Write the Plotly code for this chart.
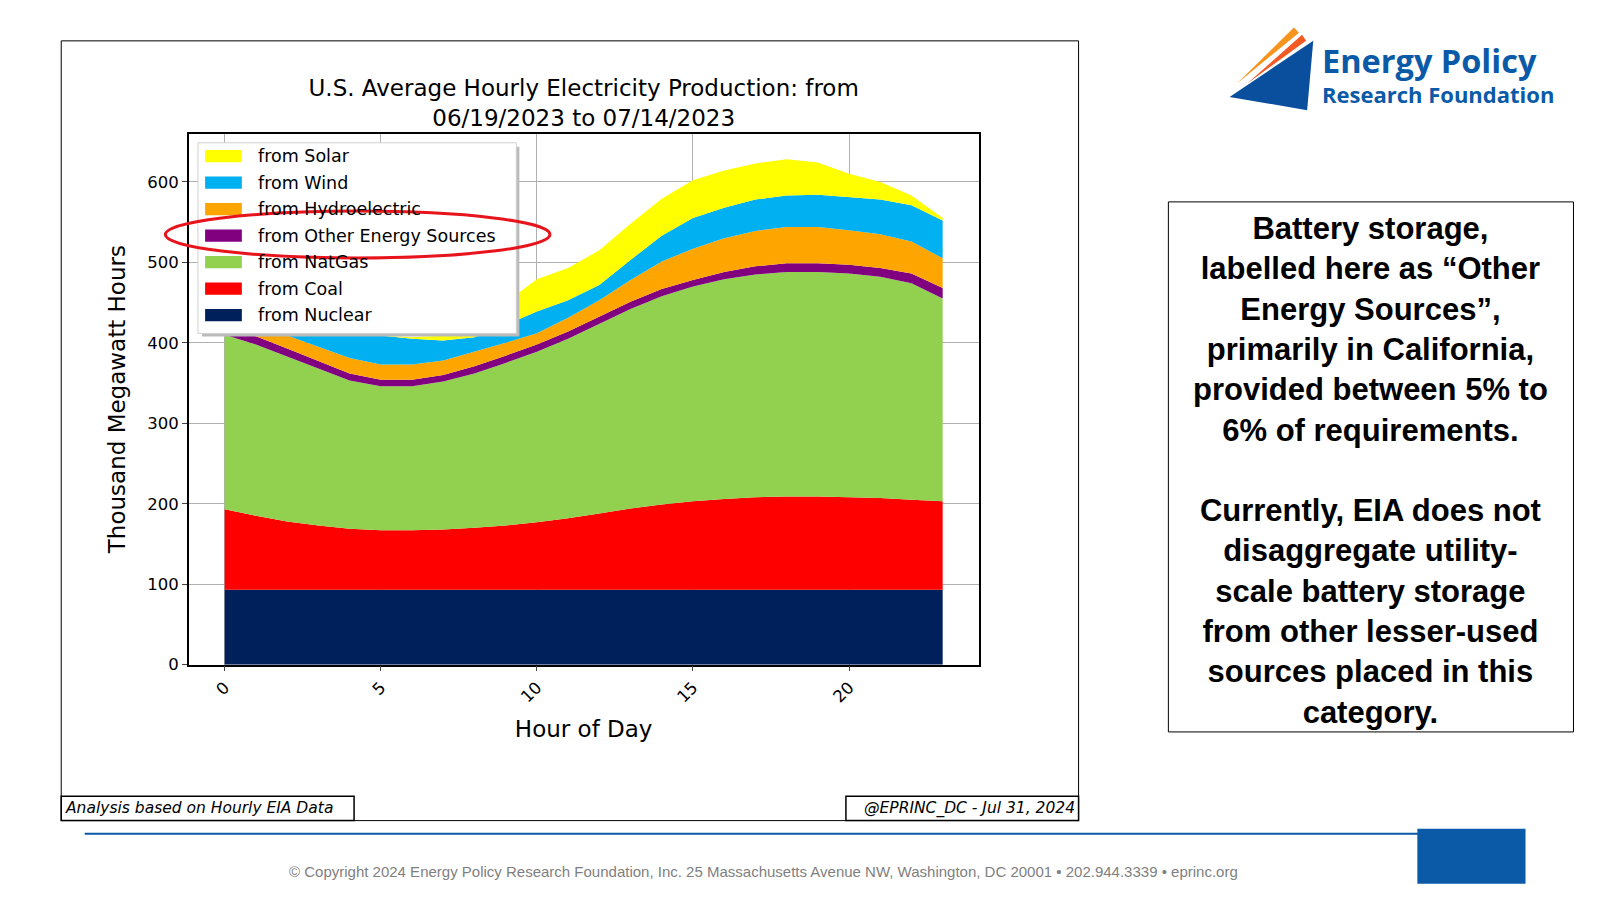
import plotly.graph_objects as go

hours = list(range(24))
nuclear = [93]*24
coal = [100,92,85,80,76,74,74,75,77,80,84,89,95,101,106,110,113,115,116,116,115,114,112,110]
natgas = [217,213,205,195,184,179,179,184,192,202,212,223,236,248,259,267,273,277,279,279,278,275,269,252]
other = [10,10,10,9,9,8,8,8,9,9,9,9,9,9,9,8,9,10,11,11,11,11,12,13]
hydro = [12,14,16,18,19,19,19,18,18,16,14,17,20,27,34,39,42,44,45,45,43,42,40,37]
wind = [45,44,42,40,38,36,32,25,18,22,27,22,19,25,32,38,38,39,39,40,41,43,45,47]
solar = [0,0,0,0,0,0,2,6,15,28,40,40,43,45,46,47,46,45,45,40,29,22,12,3]

series = [("from Nuclear", nuclear, "#00205b"), ("from Coal", coal, "#ff0000"),
          ("from NatGas", natgas, "#92d050"), ("from Other Energy Sources", other, "#800080"),
          ("from Hydroelectric", hydro, "#ffa500"), ("from Wind", wind, "#00b0f0"),
          ("from Solar", solar, "#ffff00")]

W, H = 1584, 884
fig = go.Figure()
for name, vals, col in series:
    fig.add_trace(go.Scatter(x=hours, y=vals, name=name, stackgroup="s", mode="lines",
                             line=dict(width=0, color=col), fillcolor=col, showlegend=False))

SX, SY = 0.98, 0.97
def px(x): return (x / SX - 8) / W
def py(y): return 1 - (y / SY - 8) / H

F = "DejaVu Sans"
fig.update_layout(
    width=W, height=H, margin=dict(l=0, r=0, t=0, b=0),
    paper_bgcolor="white", plot_bgcolor="white", font=dict(family=F, color="black"),
    showlegend=False,
    xaxis=dict(domain=[px(185), px(959)], range=[-1.15, 24.15], tickvals=[0,5,10,15,20],
               tickangle=-45, showgrid=True, gridcolor="#b0b0b0", zeroline=False,
               showline=True, mirror=True, linecolor="black", linewidth=1.5, ticks="outside",
               tickfont=dict(size=16.5), layer="below traces",
               title=dict(text="Hour of Day", font=dict(size=23))),
    yaxis=dict(domain=[py(652), py(131)], range=[0, 660], tickvals=[0,100,200,300,400,500,600],
               showgrid=True, gridcolor="#b0b0b0", zeroline=False, showline=True, mirror=True,
               linecolor="black", linewidth=1.5, ticks="outside", tickfont=dict(size=16.5),
               title=dict(text="Thousand Megawatt Hours", font=dict(size=23))),
    title=dict(text="U.S. Average Hourly Electricity Production: from<br>06/19/2023 to 07/14/2023",
               x=px(572), xanchor="center", y=py(93), yanchor="top", font=dict(size=23, family=F)),
)

shapes = [
    dict(type="rect", xref="paper", yref="paper", x0=px(60), x1=px(1057), y0=py(805), y1=py(40),
         line=dict(color="black", width=1)),
    dict(type="rect", xref="paper", yref="paper", x0=px(60), x1=px(347), y0=py(805), y1=py(781),
         line=dict(color="black", width=1.5)),
    dict(type="rect", xref="paper", yref="paper", x0=px(829), x1=px(1057), y0=py(805), y1=py(781),
         line=dict(color="black", width=1.5)),
    dict(type="rect", xref="paper", yref="paper", x0=px(198), x1=px(509), y0=py(330), y1=py(144),
         fillcolor="#bbbbbb", line=dict(width=0)),
    dict(type="rect", xref="paper", yref="paper", x0=px(194), x1=px(506), y0=py(327), y1=py(140),
         fillcolor="white", line=dict(color="#d0d0d0", width=1)),
]
anns = []
legend_order = list(reversed(series))
for i, (name, vals, col) in enumerate(legend_order):
    yc = 153 + 26 * i
    shapes.append(dict(type="rect", xref="paper", yref="paper", x0=px(201), x1=px(237),
                       y0=py(yc + 6), y1=py(yc - 6), fillcolor=col, line=dict(width=0)))
    anns.append(dict(text=name, x=px(251), y=py(yc), xanchor="left", yanchor="middle",
                     font=dict(size=17.5, family=F)))
shapes += [
    dict(type="circle", xref="paper", yref="paper", x0=px(162), x1=px(539), y0=py(253), y1=py(207),
         line=dict(color="#e8141c", width=3)),
    dict(type="rect", xref="paper", yref="paper", x0=px(1145), x1=px(1542), y0=py(718), y1=py(198),
         line=dict(color="black", width=1)),
    dict(type="line", xref="paper", yref="paper", x0=px(83), x1=px(1390), y0=py(818), y1=py(818),
         line=dict(color="#0a5aa8", width=2)),
    dict(type="rect", xref="paper", yref="paper", x0=px(1389), x1=px(1495), y0=py(813), y1=py(867),
         fillcolor="#0a5aa8", line=dict(width=0)),
    dict(type="path", xref="paper", yref="paper",
         path=f"M {px(1205)},{py(95)} L {px(1287)},{py(40)} L {px(1281)},{py(108)} Z",
         fillcolor="#0a4f9e", line=dict(width=0)),
    dict(type="path", xref="paper", yref="paper",
         path=f"M {px(1212)},{py(82)} L {px(1268)},{py(27)} L {px(1273)},{py(32)} Z",
         fillcolor="#f7941d", line=dict(width=0)),
    dict(type="path", xref="paper", yref="paper",
         path=f"M {px(1222)},{py(82)} L {px(1276)},{py(34)} L {px(1280)},{py(40)} Z",
         fillcolor="#f15a24", line=dict(width=0)),
]
fig.update_layout(shapes=shapes)

anns += [
    dict(text="<i>Analysis based on Hourly EIA Data</i>", x=px(62), y=py(793), xanchor="left",
         yanchor="middle", font=dict(size=15.5, family=F)),
    dict(text="<i>@EPRINC_DC - Jul 31, 2024</i>", x=px(1055), y=py(793), xanchor="right",
         yanchor="middle", font=dict(size=15.5, family=F)),
    dict(text="<b>Energy Policy</b>", x=px(1294), y=py(59), xanchor="left", yanchor="middle",
         font=dict(size=32.5, family="Open Sans", color="#0a5aa8")),
    dict(text="<b>Research Foundation</b>", x=px(1294), y=py(92), xanchor="left", yanchor="middle",
         font=dict(size=22, family="Open Sans", color="#0a5aa8")),
    dict(text="<b>Battery storage,<br>labelled here as “Other<br>Energy Sources”,<br>primarily in California,<br>"
              "provided between 5% to<br>6% of requirements.<br><br>Currently, EIA does not<br>disaggregate utility-<br>"
              "scale battery storage<br>from other lesser-used<br>sources placed in this<br>category.</b>",
         x=px(1343), y=py(462), xanchor="center", yanchor="middle", align="center",
         font=dict(size=31, family="Liberation Sans")),
    dict(text="© Copyright 2024 Energy Policy Research Foundation, Inc. 25 Massachusetts Avenue NW, Washington, DC 20001 • 202.944.3339 • eprinc.org",
         x=px(748), y=py(855), xanchor="center", yanchor="middle",
         font=dict(size=15, family="Liberation Sans", color="#7f7f7f")),
]
for a in anns:
    a.update(xref="paper", yref="paper", showarrow=False)
fig.update_layout(annotations=anns)

fig.write_html("out.html")
